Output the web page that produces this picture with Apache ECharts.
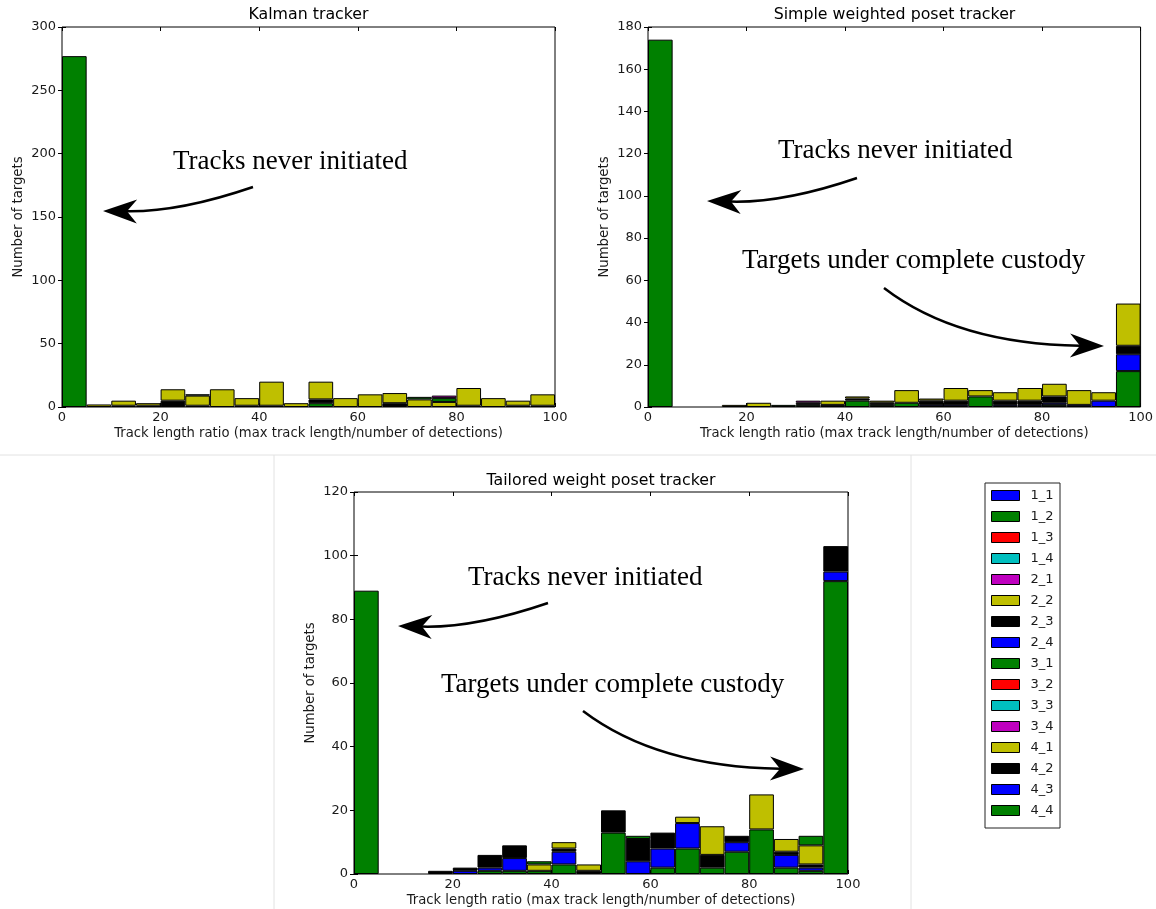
<!DOCTYPE html>
<html>
<head>
<meta charset="utf-8">
<script src="https://cdn.jsdelivr.net/npm/echarts@6/dist/echarts.min.js"></script>
<style>
  html, body { margin: 0; padding: 0; background: #fff; }
  #chart { width: 1156px; height: 909px; }
</style>
</head>
<body>
<div id="chart"></div>
<script>
// histogram bins, width 5, from 0 to 100
const binLabels = ['0', '5', '10', '15', '20', '25', '30', '35', '40', '45',
  '50', '55', '60', '65', '70', '75', '80', '85', '90', '95'];

const seriesNames = ['1_1', '1_2', '1_3', '1_4', '2_1', '2_2', '2_3', '2_4',
  '3_1', '3_2', '3_3', '3_4', '4_1', '4_2', '4_3', '4_4'];
const seriesColors = ['#0000ff', '#008000', '#ff0000', '#00bfbf', '#bf00bf', '#bfbf00', '#000000', '#0000ff',
  '#008000', '#ff0000', '#00bfbf', '#bf00bf', '#bfbf00', '#000000', '#0000ff', '#008000'];
// bottom to top
const stackOrder = ['1_2', '1_1', '2_3', '2_2', '4_4', '3_4', '1_3', '1_4',
  '2_1', '2_4', '3_1', '3_2', '3_3', '4_1', '4_2', '4_3'];

// Kalman tracker
const kalman_1_2 = [277, 0, 0, 0, 0, 0, 0, 0, 0, 0, 3, 0, 0, 0, 0, 0, 0, 0, 0, 0];
const kalman_2_3 = [0, 0, 1, 1, 5, 1, 0, 1, 1, 0, 3, 0, 0, 3, 0, 0, 1, 0, 1, 1];
const kalman_2_2 = [0, 2, 4, 2, 9, 8, 14, 6, 19, 3, 14, 7, 10, 8, 6, 4, 14, 7, 4, 9];
const kalman_4_4 = [0, 0, 0, 0, 0, 1, 0, 0, 0, 0, 0, 0, 0, 0, 2, 3, 0, 0, 0, 0];
const kalman_3_4 = [0, 0, 0, 0, 0, 0, 0, 0, 0, 0, 0, 0, 0, 0, 0, 2, 0, 0, 0, 0];

// Simple weighted poset tracker
const simple_1_2 = [174, 0, 0, 0, 0, 1, 1, 0, 3, 1, 2, 0, 0, 5, 0, 0, 1, 0, 0, 17];
const simple_1_1 = [0, 0, 0, 0, 0, 0, 0, 0, 0, 0, 0, 1, 1, 0, 1, 1, 1, 1, 3, 8];
const simple_2_3 = [0, 0, 0, 0, 0, 0, 1, 1, 1, 1, 0, 2, 2, 0, 2, 2, 3, 0, 0, 4];
const simple_2_2 = [0, 0, 0, 1, 2, 0, 0, 2, 1, 1, 6, 1, 6, 3, 4, 6, 6, 7, 4, 20];
const simple_3_4 = [0, 0, 0, 0, 0, 0, 1, 0, 0, 0, 0, 0, 0, 0, 0, 0, 0, 0, 0, 0];

// Tailored weight poset tracker
const tailored_1_2 = [89, 0, 0, 0, 0, 1, 1, 1, 3, 0, 13, 0, 2, 8, 2, 7, 14, 2, 1, 92];
const tailored_1_1 = [0, 0, 0, 0, 1, 1, 4, 0, 4, 0, 0, 4, 6, 8, 0, 3, 0, 4, 1, 3];
const tailored_2_3 = [0, 0, 0, 1, 1, 4, 4, 0, 1, 1, 7, 7, 5, 0, 4, 2, 0, 1, 1, 8];
const tailored_2_2 = [0, 0, 0, 0, 0, 0, 0, 2, 2, 2, 0, 0, 0, 2, 9, 0, 11, 4, 6, 0];
const tailored_4_4 = [0, 0, 0, 0, 0, 0, 0, 1, 0, 0, 0, 1, 0, 0, 0, 0, 0, 0, 3, 0];

const yMax = [300, 180, 120];
const yStep = [50, 20, 20];
const titles = ['Kalman tracker', 'Simple weighted poset tracker', 'Tailored weight poset tracker'];

const panelData = [
  { '1_2': kalman_1_2, '2_3': kalman_2_3, '2_2': kalman_2_2, '4_4': kalman_4_4, '3_4': kalman_3_4 },
  { '1_2': simple_1_2, '1_1': simple_1_1, '2_3': simple_2_3, '2_2': simple_2_2, '3_4': simple_3_4 },
  { '1_2': tailored_1_2, '1_1': tailored_1_1, '2_3': tailored_2_3, '2_2': tailored_2_2, '4_4': tailored_4_4 }
];

const grids = [
  { left: 62, top: 27, width: 493, height: 380 },
  { left: 648, top: 27, width: 493, height: 380 },
  { left: 354, top: 492, width: 494, height: 382 }
];

const sans = 'DejaVu Sans';
const serif = 'Liberation Serif';
const xName = 'Track length ratio (max track length/number of detections)';
const textColor = '#1a1a1a';

const xAxes = [];
const yAxes = [];
const series = [];

grids.forEach((g, i) => {
  xAxes.push({ type: 'category', gridIndex: i, data: binLabels, show: false });
  xAxes.push({
    type: 'value', gridIndex: i, position: 'bottom', min: 0, max: 100, interval: 20,
    axisLine: { show: false },
    axisTick: { inside: true, length: 4, lineStyle: { color: '#000' } },
    axisLabel: { fontSize: 13, fontFamily: sans, color: textColor, margin: 4 },
    splitLine: { show: false },
    name: xName, nameLocation: 'middle', nameGap: 20,
    nameTextStyle: { fontSize: 13.2, fontFamily: sans, color: textColor }
  });
  xAxes.push({
    type: 'value', gridIndex: i, position: 'top', min: 0, max: 100, interval: 20,
    axisLine: { show: false },
    axisTick: { inside: true, length: 4, lineStyle: { color: '#000' } },
    axisLabel: { show: false },
    splitLine: { show: false }
  });
  yAxes.push({
    type: 'value', gridIndex: i, position: 'left', min: 0, max: yMax[i], interval: yStep[i],
    axisLine: { show: false },
    axisTick: { inside: true, length: 4, lineStyle: { color: '#000' } },
    axisLabel: { fontSize: 13, fontFamily: sans, color: textColor, margin: 6 },
    splitLine: { show: false },
    name: 'Number of targets', nameLocation: 'middle', nameGap: 37, nameRotate: 90,
    nameTextStyle: { fontSize: 13.2, fontFamily: sans, color: textColor }
  });
  yAxes.push({
    type: 'value', gridIndex: i, position: 'right', min: 0, max: yMax[i], interval: yStep[i],
    axisLine: { show: false },
    axisTick: { inside: true, length: 4, lineStyle: { color: '#000' } },
    axisLabel: { show: false },
    splitLine: { show: false }
  });

  stackOrder.forEach((name) => {
    const values = panelData[i][name] || binLabels.map(() => 0);
    series.push({
      type: 'bar',
      name: name,
      xAxisIndex: i * 3,
      yAxisIndex: i * 2,
      stack: 'panel' + i,
      barCategoryGap: '0%',
      data: values.map((v) => (v === 0 ? null : v)),
      itemStyle: {
        color: seriesColors[seriesNames.indexOf(name)],
        borderColor: '#000',
        borderWidth: 1
      },
      emphasis: { disabled: true }
    });
  });
});

// curved annotation arrow: quadratic curve plus notched head
function arrow(tail, ctrl, tip) {
  const dx = tip[0] - ctrl[0];
  const dy = tip[1] - ctrl[1];
  const len = Math.hypot(dx, dy);
  const ux = dx / len, uy = dy / len;
  const px = -uy, py = ux;
  const L = 34, W = 12, N = 10;
  const bx = tip[0] - ux * L, by = tip[1] - uy * L;
  const nx = tip[0] - ux * (L - N), ny = tip[1] - uy * (L - N);
  return [
    {
      type: 'bezierCurve',
      shape: { x1: tail[0], y1: tail[1], cpx1: ctrl[0], cpy1: ctrl[1], x2: nx, y2: ny },
      style: { stroke: '#000', lineWidth: 2.5, fill: 'none' },
      z: 100
    },
    {
      type: 'polygon',
      shape: { points: [tip, [bx + px * W, by + py * W], [nx, ny], [bx - px * W, by - py * W]] },
      style: { fill: '#000' },
      z: 100
    }
  ];
}

function label(text, x, y, font, align) {
  return {
    type: 'text', x: x, y: y, z: 100,
    style: {
      text: text, font: font, fill: '#000',
      align: align, textAlign: align, verticalAlign: 'middle', textVerticalAlign: 'middle'
    }
  };
}

const annoFont = '27px "' + serif + '"';
const titleFont = '15.8px "' + sans + '"';

const graphic = [
  // page separators
  { type: 'line', shape: { x1: 0, y1: 455, x2: 1156, y2: 455 }, style: { stroke: '#e2e2e2', lineWidth: 1 } },
  { type: 'line', shape: { x1: 274, y1: 455, x2: 274, y2: 909 }, style: { stroke: '#e2e2e2', lineWidth: 1 } },
  { type: 'line', shape: { x1: 911, y1: 455, x2: 911, y2: 909 }, style: { stroke: '#e2e2e2', lineWidth: 1 } },
  // legend frame
  { type: 'rect', shape: { x: 985, y: 483, width: 75, height: 345 }, style: { stroke: '#222', lineWidth: 1, fill: 'none' } },
  label(titles[0], 308.5, 15, titleFont, 'center'),
  label(titles[1], 894.5, 15, titleFont, 'center'),
  label(titles[2], 601, 481, titleFont, 'center'),
  label('Tracks never initiated', 173, 162, annoFont, 'left'),
  label('Tracks never initiated', 778, 151, annoFont, 'left'),
  label('Targets under complete custody', 742, 261, annoFont, 'left'),
  label('Tracks never initiated', 468, 578, annoFont, 'left'),
  label('Targets under complete custody', 441, 685, annoFont, 'left')
]
  .concat(arrow([253, 187], [180, 212], [103, 211]))
  .concat(arrow([857, 178], [784, 203], [707, 201]))
  .concat(arrow([884, 288], [957, 344], [1104, 346]))
  .concat(arrow([548, 603], [475, 628], [398, 626]))
  .concat(arrow([583, 711], [657, 767], [804, 769]));

const chart = echarts.init(document.getElementById('chart'));
chart.setOption({
  animation: false,
  backgroundColor: '#fff',
  grid: grids.map((g) => Object.assign({ show: true, borderColor: '#000', borderWidth: 1, backgroundColor: '#fff' }, g)),
  xAxis: xAxes,
  yAxis: yAxes,
  legend: {
    data: seriesNames,
    orient: 'vertical',
    left: 991,
    top: 489,
    padding: 0,
    itemWidth: 28,
    itemHeight: 10,
    itemGap: 8,
    icon: 'rect',
    selectedMode: false,
    itemStyle: { borderColor: '#000', borderWidth: 1 },
    textStyle: { fontSize: 13, fontFamily: sans, color: textColor, padding: [0, 0, 0, 6] }
  },
  series: series,
  graphic: graphic
});
</script>
</body>
</html>
